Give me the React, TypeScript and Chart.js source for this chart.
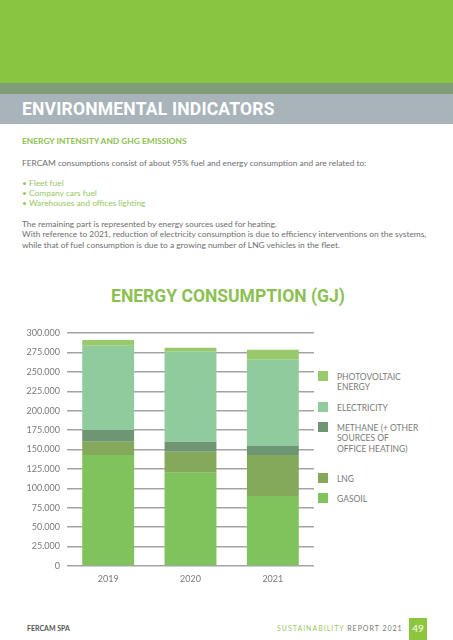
import React, { useEffect, useRef } from "react";
import { Chart, registerables } from "chart.js";

Chart.register(...registerables);

const years = ["2019", "2020", "2021"];
const gasoil = [143000, 120000, 90000];
const lng = [17000, 27000, 53000];
const methane = [15000, 13000, 11500];
const electricity = [108500, 116000, 111000];
const photovoltaic = [7500, 5000, 13000];

const seriesNames = ["GASOIL", "LNG", "METHANE (+ OTHER SOURCES OF OFFICE HEATING)", "ELECTRICITY", "PHOTOVOLTAIC ENERGY"];
const seriesColors = ["#80c25b", "#85a95b", "#6e9672", "#8fcb9d", "#98ca6c"];

const yMax = 300000;
const yStep = 25000;

function fmt(v: number): string {
  if (v === 0) return "0";
  const s = String(Math.round(v));
  return s.replace(/\B(?=(\d{3})+(?!\d))/g, ".");
}

const abs = (o: React.CSSProperties): React.CSSProperties => ({ position: "absolute", ...o });

function ChartCanvas() {
  const ref = useRef<HTMLCanvasElement | null>(null);
  useEffect(() => {
    if (!ref.current) return;
    const values = [gasoil, lng, methane, electricity, photovoltaic];
    const chart = new Chart(ref.current, {
      type: "bar",
      data: {
        labels: years,
        datasets: values.map((d, i) => ({
          label: seriesNames[i],
          data: d,
          backgroundColor: seriesColors[i],
          borderWidth: 0,
          categoryPercentage: 1,
          barPercentage: 0.63,
        })),
      },
      options: {
        responsive: false,
        animation: false,
        layout: { padding: { top: 13, right: 0, bottom: 0, left: 0 } },
        plugins: { legend: { display: false }, tooltip: { enabled: false } },
        scales: {
          x: {
            stacked: true,
            grid: { display: false, drawTicks: false },
            border: { display: false },
            ticks: { font: { family: "Lato", size: 9 }, color: "#7a7a7a", padding: 8 },
            afterFit: (s: any) => { s.height = 34; },
          },
          y: {
            stacked: true,
            min: 0,
            max: yMax,
            grid: { color: "#a3a3a3", lineWidth: 1.5, drawTicks: false },
            border: { display: false },
            ticks: {
              stepSize: yStep,
              padding: 7,
              font: { family: "Lato", size: 9 },
              color: "#7a7a7a",
              callback: (v: any) => fmt(Number(v)),
            },
            afterFit: (s: any) => { s.width = 67; },
          },
        },
      },
    } as any);
    return () => chart.destroy();
  }, []);
  return <canvas ref={ref} width={314} height={280} style={abs({ left: 0, top: 320, width: 314, height: 280 })} />;
}

const legendItems = [
  { color: seriesColors[4], lines: ["PHOTOVOLTAIC", "ENERGY"], top: 371 },
  { color: seriesColors[3], lines: ["ELECTRICITY"], top: 402 },
  { color: seriesColors[2], lines: ["METHANE (+ OTHER", "SOURCES OF", "OFFICE HEATING)"], top: 422 },
  { color: seriesColors[1], lines: ["LNG"], top: 473 },
  { color: seriesColors[0], lines: ["GASOIL"], top: 493 },
];

export default function App() {
  const body: React.CSSProperties = { fontFamily: "Lato", fontSize: 8.4, color: "#6d6e71", whiteSpace: "nowrap", lineHeight: "10.3px" };
  return (
    <div style={abs({ left: 0, top: 0, width: 453, height: 640, background: "#fff", overflow: "hidden" })}>
      <div style={abs({ left: 0, top: 0, width: 453, height: 83, background: "#89c541" })} />
      <div style={abs({ left: 0, top: 83, width: 453, height: 11, background: "#7f9e77" })} />
      <div style={abs({ left: 0, top: 94, width: 453, height: 30, background: "#a9b3ba" })} />
      <div style={abs({ left: 22, top: 94, height: 30, lineHeight: "30px", fontFamily: "Roboto", fontWeight: 700, fontSize: 17.5, letterSpacing: 0.2, color: "#fff", whiteSpace: "nowrap" })}>
        ENVIRONMENTAL INDICATORS
      </div>
      <div style={abs({ left: 22, top: 136, fontFamily: "Lato", fontWeight: 700, fontSize: 8.4, color: "#8cc152", whiteSpace: "nowrap", lineHeight: "11px" })}>
        ENERGY INTENSITY AND GHG EMISSIONS
      </div>
      <div style={abs({ left: 22, top: 158, ...body })}>
        FERCAM consumptions consist of about 95% fuel and energy consumption and are related to:
      </div>
      <div style={abs({ left: 22, top: 177.5, ...body, color: "#95c866" })}>
        <div>• Fleet fuel</div>
        <div>• Company cars fuel</div>
        <div>• Warehouses and offices lighting</div>
      </div>
      <div style={abs({ left: 22, top: 219, ...body })}>
        <div>The remaining part is represented by energy sources used for heating.</div>
        <div>With reference to 2021, reduction of electricity consumption is due to efficiency interventions on the systems,</div>
        <div>while that of fuel consumption is due to a growing number of LNG vehicles in the fleet.</div>
      </div>
      <div style={abs({ left: 0, width: 456, top: 285, textAlign: "center", fontFamily: "Roboto", fontWeight: 700, fontSize: 17.5, color: "#8cc152", lineHeight: "22px" })}>
        ENERGY CONSUMPTION (GJ)
      </div>
      <ChartCanvas />
      {legendItems.map((it, i) => (
        <div key={i}>
          <div style={abs({ left: 318, top: it.top, width: 10, height: 10, background: it.color })} />
          <div style={abs({ left: 337, top: it.top + 1, fontFamily: "Lato", fontSize: 8.5, color: "#7a7a7a", lineHeight: "10.3px", whiteSpace: "nowrap" })}>
            {it.lines.map((l, j) => <div key={j}>{l}</div>)}
          </div>
        </div>
      ))}
      <div style={abs({ left: 27, top: 623, fontFamily: "Lato", fontWeight: 700, fontSize: 7, color: "#555", lineHeight: "10px", whiteSpace: "nowrap" })}>
        FERCAM SPA
      </div>
      <div style={abs({ left: 277, top: 623, fontFamily: "Lato", fontSize: 7, letterSpacing: 1.0, lineHeight: "10px", whiteSpace: "nowrap" })}>
        <span style={{ color: "#9cc96a" }}>SUSTAINABILITY </span>
        <span style={{ color: "#777" }}>REPORT 2021</span>
      </div>
      <div style={abs({ left: 409, top: 618, width: 18, height: 22, background: "#8cc63f", color: "#fff", fontFamily: "Lato", fontSize: 10, lineHeight: "20px", textAlign: "center" })}>
        49
      </div>
    </div>
  );
}
